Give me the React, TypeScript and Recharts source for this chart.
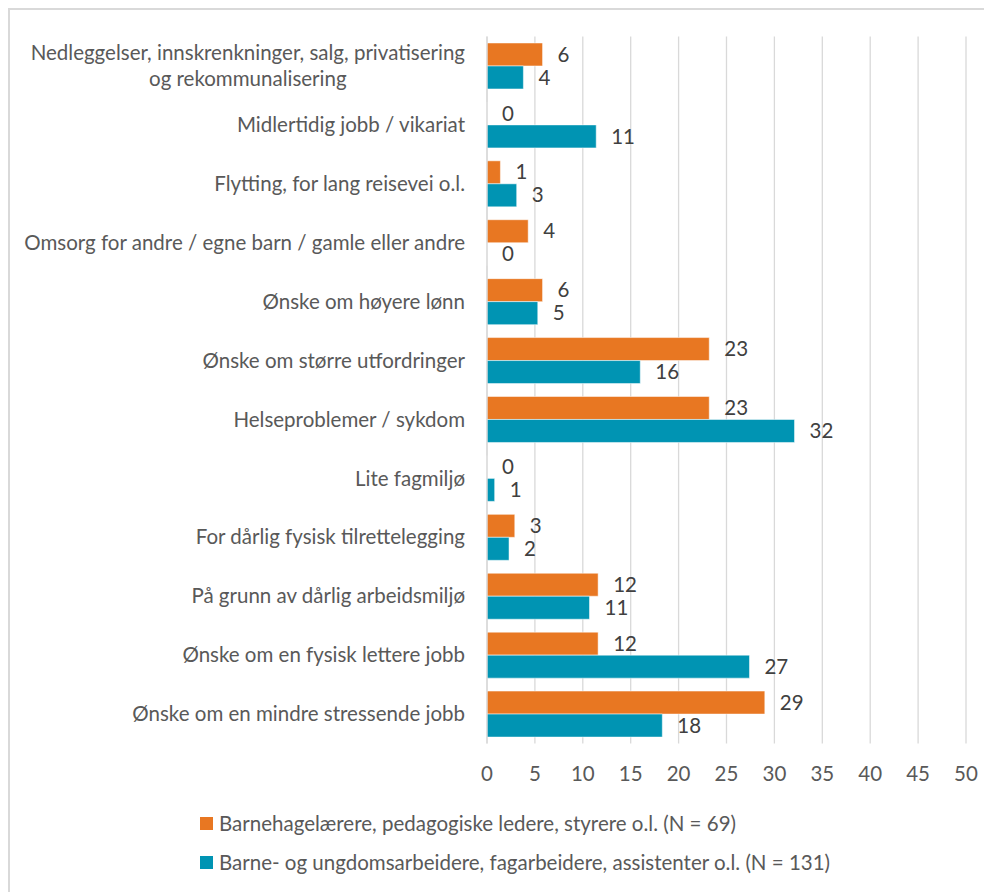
import React from 'react';
import { BarChart, Bar, XAxis, YAxis, CartesianGrid, LabelList, Legend } from 'recharts';

const categories = [
  'Nedleggelser, innskrenkninger, salg, privatisering\nog rekommunalisering',
  'Midlertidig jobb / vikariat',
  'Flytting, for lang reisevei o.l.',
  'Omsorg for andre / egne barn / gamle eller andre',
  'Ønske om høyere lønn',
  'Ønske om større utfordringer',
  'Helseproblemer / sykdom',
  'Lite fagmiljø',
  'For dårlig fysisk tilrettelegging',
  'På grunn av dårlig arbeidsmiljø',
  'Ønske om en fysisk lettere jobb',
  'Ønske om en mindre stressende jobb',
];

const barnehagelaerere = [5.8, 0, 1.4, 4.3, 5.8, 23.2, 23.2, 0, 2.9, 11.6, 11.6, 29.0];
const assistenter = [3.8, 11.4, 3.1, 0, 5.3, 16.0, 32.1, 0.8, 2.3, 10.7, 27.4, 18.3];

const xTicks = [0, 5, 10, 15, 20, 25, 30, 35, 40, 45, 50];

const seriesNames = [
  'Barnehagelærere, pedagogiske ledere, styrere o.l. (N = 69)',
  'Barne- og ungdomsarbeidere, fagarbeidere, assistenter o.l. (N = 131)',
];
const ORANGE = '#E87722';
const TEAL = '#0094B3';
const FONT = '"Source Sans Pro", Lato, "Open Sans", sans-serif';
const FS = 20.5;

const data = categories.map((name, i) => ({
  name,
  a: barnehagelaerere[i],
  b: assistenter[i],
}));

let canvasCtx: CanvasRenderingContext2D | null = null;
function measure(text: string): number {
  if (!canvasCtx) {
    const c = document.createElement('canvas');
    canvasCtx = c.getContext('2d');
  }
  if (!canvasCtx) return text.length * 8.8;
  canvasCtx.font = `${FS}px Lato`;
  return canvasCtx.measureText(text).width;
}

const CategoryTick = (props: any) => {
  const { x, y, payload } = props;
  const lines: string[] = String(payload.value).split('\n');
  if (lines.length === 1) {
    return (
      <text x={x} y={y} dy="0.35em" textAnchor="end" fill="#595959" fontSize={FS} fontFamily={FONT}>
        {lines[0]}
      </text>
    );
  }
  const w = measure(lines[0]);
  const cx = x - w / 2;
  return (
    <g>
      {lines.map((l, i) => (
        <text
          key={i}
          x={cx}
          y={y + (i - (lines.length - 1) / 2) * 26}
          dy="0.35em"
          textAnchor="middle"
          fill="#595959"
          fontSize={FS}
          fontFamily={FONT}
        >
          {l}
        </text>
      ))}
    </g>
  );
};

const LegendContent = () => (
  <div style={{ fontFamily: FONT, fontSize: FS, color: '#595959', paddingTop: 19.5 }}>
    {[ORANGE, TEAL].map((c, i) => (
      <div key={i} style={{ height: 39, display: 'flex', alignItems: 'center', whiteSpace: 'nowrap' }}>
        <span style={{ display: 'inline-block', width: 13, height: 13, background: c, marginRight: 6 }} />
        <span>{seriesNames[i]}</span>
      </div>
    ))}
  </div>
);

const ValueLabel = (props: any) => {
  const { x, y, width, height, value } = props;
  if (value == null) return null;
  return (
    <text
      x={Number(x) + Number(width || 0) + 15}
      y={Number(y) + Number(height) / 2}
      dy="0.35em"
      textAnchor="start"
      fill="#404040"
      fontSize={FS}
      fontFamily={FONT}
    >
      {String(Math.round(Number(value)))}
    </text>
  );
};

export default function App() {
  return (
    <div style={{ position: 'relative', width: 984, height: 884 }}>
      <BarChart
        width={984}
        height={884}
        data={data}
        layout="vertical"
        margin={{ top: 28.5, right: 26, left: 0, bottom: 18.5 }}
        barCategoryGap="11%"
        barGap={0}
      >
        <CartesianGrid horizontal={false} stroke="#d9d9d9" strokeWidth={1.3} />
        <XAxis
          type="number"
          domain={[0, 50]}
          ticks={xTicks}
          interval={0}
          axisLine={false}
          tickLine={false}
          tickSize={0}
          tickMargin={23}
          height={30}
          tick={{ fill: '#595959', fontSize: FS, fontFamily: FONT }}
        />
        <YAxis
          type="category"
          dataKey="name"
          width={479}
          interval={0}
          axisLine={{ stroke: '#d9d9d9', strokeWidth: 1.3 }}
          tickLine={false}
          tickSize={0}
          tickMargin={22}
          tick={<CategoryTick />}
        />
        <Legend
          verticalAlign="bottom"
          align="left"
          height={100}
          content={<LegendContent />}
          wrapperStyle={{ left: 192, top: 776, bottom: 'auto', width: 780, height: 100 }}
        />
        <Bar dataKey="a" name={seriesNames[0]} fill={ORANGE} stroke="#ffffff" strokeOpacity={0.5} strokeWidth={1} minPointSize={0.01} isAnimationActive={false}>
          <LabelList dataKey="a" content={<ValueLabel />} />
        </Bar>
        <Bar dataKey="b" name={seriesNames[1]} fill={TEAL} stroke="#ffffff" strokeOpacity={0.5} strokeWidth={1} minPointSize={0.01} isAnimationActive={false}>
          <LabelList dataKey="b" content={<ValueLabel />} />
        </Bar>
      </BarChart>
      <div
        style={{
          position: 'absolute',
          left: 0,
          top: 0,
          width: 984,
          height: 884,
          borderTop: '2px solid #d9d9d9',
          borderLeft: '2px solid #d9d9d9',
          boxSizing: 'border-box',
          pointerEvents: 'none',
        }}
      />
    </div>
  );
}
